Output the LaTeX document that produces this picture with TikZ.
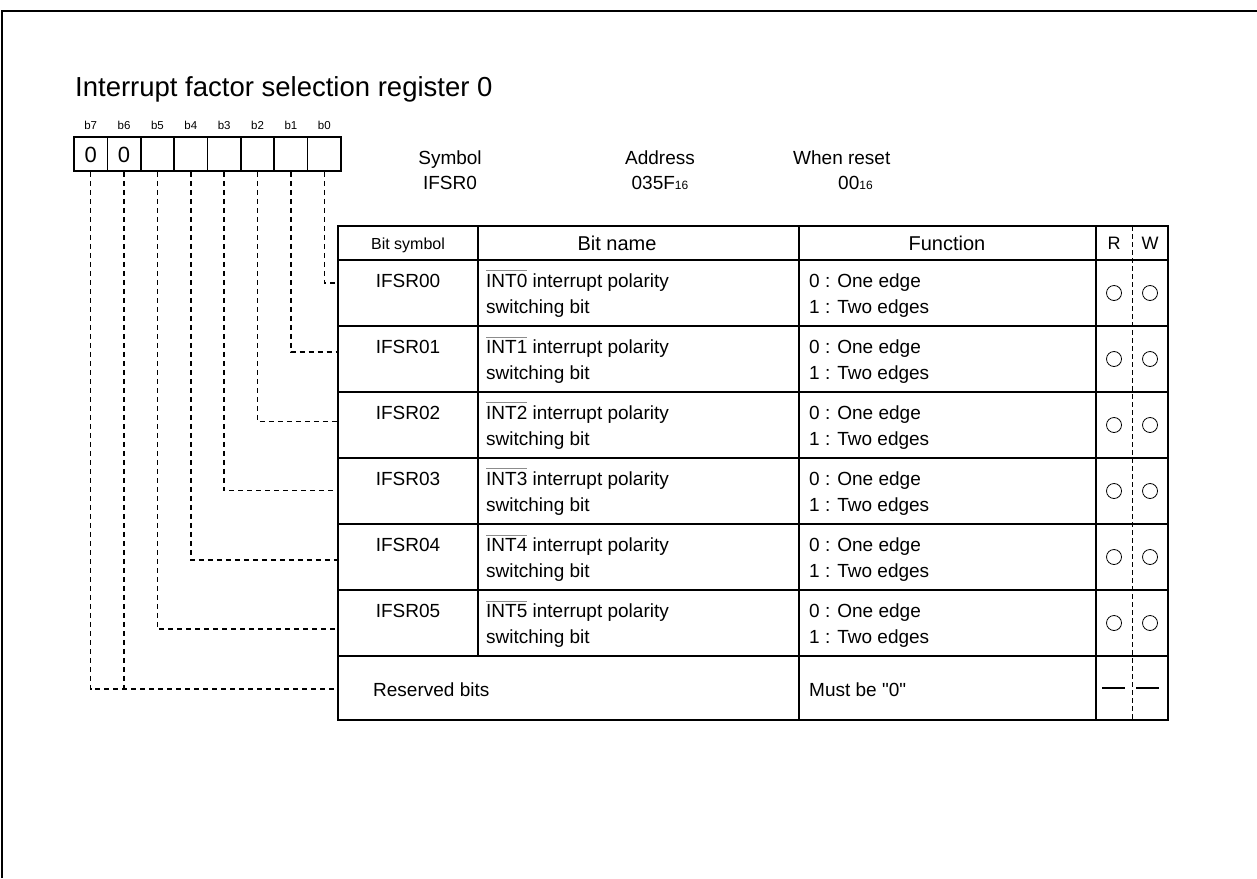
\documentclass[tikz,border=0pt]{standalone}
\usepackage{fontspec}
\setmainfont{Liberation Sans}[Ligatures=TeXOff]
\newcommand{\setfs}[1]{\fontsize{#1}{#1}\selectfont}
\newcommand{\ovlx}[1]{\setbox0\hbox{#1}\rlap{\color{black!45}\rule[\dimexpr\ht0+2.5pt\relax]{\wd0}{0.9pt}}\box0\relax}
\newcommand{\subsx}[1]{{\setfs{12}#1}}
\begin{document}
\begin{tikzpicture}[x=1pt,y=-1pt,
  frame/.style={line width=2pt},
  tbl/.style={line width=1.6pt},
  conn/.style={dash pattern=on 5pt off 4pt, line width=1.5pt},
  rw/.style={dash pattern=on 5pt off 3pt, line width=1pt},
  cell/.style={draw, line width=1.6pt, minimum width=33.375pt, minimum height=34pt, inner sep=0pt},
  bl/.style={inner sep=0pt, font=\setfs{19}},
  circ/.style={circle, draw, line width=0.8pt, minimum size=15pt, inner sep=0pt},
]
\useasboundingbox (0,0) rectangle (1257,878);
% partial frame
\draw[frame] (2,878) -- (2,11) -- (1257,11);
% title
\node[inner sep=0pt, anchor=base west, font=\setfs{27.5}] (title) at (75,96) {Interrupt factor selection register 0};
% bit cells
\foreach \i in {0,...,7} {
  \pgfmathsetmacro{\cx}{341-33.375*(\i+0.5)}
  \node[cell] (c\i) at (\cx,154) {};
  \node[inner sep=0pt, anchor=base, font=\setfs{11.5}] (lb\i) at (\cx,129) {b\i};
}
\node[inner sep=0pt, anchor=base, font=\setfs{22}] (z7) at (c7.center) [yshift=-8pt] {0};
\node[inner sep=0pt, anchor=base, font=\setfs{22}] (z6) at (c6.center) [yshift=-8pt] {0};
% symbol / address / reset
\node[bl, anchor=base] (sym) at (450,164) {Symbol};
\node[bl, anchor=base] (symv) at (450,189) {IFSR0};
\node[bl, anchor=base] (adr) at (660,164) {Address};
\node[bl, anchor=base] (adrv) at (660,189) {035F\subsx{16}};
\node[bl, anchor=base west] (rst) at (793,164) {When reset};
\node[bl, anchor=base west] (rstv) at (838,189) {00\subsx{16}};
% table header
\node[inner sep=0pt, anchor=base, font=\setfs{16}] (h1) at (408,249) {Bit symbol};
\node[inner sep=0pt, anchor=base, font=\setfs{20}] (h2) at (617,250) {Bit name};
\node[inner sep=0pt, anchor=base, font=\setfs{20}] (h3) at (947,250) {Function};
\node[inner sep=0pt, anchor=base, font=\setfs{18}] (h4) at (1114,249) {R};
\node[inner sep=0pt, anchor=base, font=\setfs{18}] (h5) at (1150,249) {W};
% table rows
\foreach \i in {0,...,5} {
  \pgfmathsetmacro{\T}{260+66*\i}
  \draw[tbl] (338,\T) -- (1168,\T);
  \node[bl, anchor=base] (s\i) at (408,\T+27) {IFSR0\i};
  \node[bl, anchor=base west] (n\i) at (486,\T+27) {\ovlx{INT\i} interrupt polarity};
  \node[bl, anchor=base west] (m\i) at (486,\T+53) {switching bit};
  \node[bl, anchor=base west] (f\i) at (809,\T+27) {0 : One edge};
  \node[bl, anchor=base west] (g\i) at (809,\T+53) {1 : Two edges};
  \node[circ] (r\i) at (1114,\T+33) {};
  \node[circ] (w\i) at (1150,\T+33) {};
  \pgfmathsetmacro{\Y}{283+69.2*\i}
  \coordinate (e\i) at (338,\Y);
  \draw[conn] (c\i.south) |- (e\i);
}
\draw[tbl] (338,656) -- (1168,656);
\node[bl, anchor=base west] (res) at (373,696) {Reserved bits};
\node[bl, anchor=base west] (must) at (809,696) {Must be "0"};
\coordinate (rl1) at (1102,688); \coordinate (rl2) at (1125,688);
\coordinate (wl1) at (1136,688); \coordinate (wl2) at (1159,688);
\draw[line width=1.8pt] (rl1) -- (rl2);
\draw[line width=1.8pt] (wl1) -- (wl2);
\coordinate (eres) at (338,689);
\coordinate (j6) at (c6.south |- eres);
\draw[conn] (c7.south) |- (eres);
\draw[conn] (c6.south) -- (j6);
% table frame and columns
\draw[tbl] (338,226) rectangle (1168,720);
\draw[tbl] (478,226) -- (478,656);
\draw[tbl] (799,226) -- (799,720);
\draw[tbl] (1096,226) -- (1096,720);
\draw[rw] (1132,226) -- (1132,720);
\end{tikzpicture}
\end{document}
